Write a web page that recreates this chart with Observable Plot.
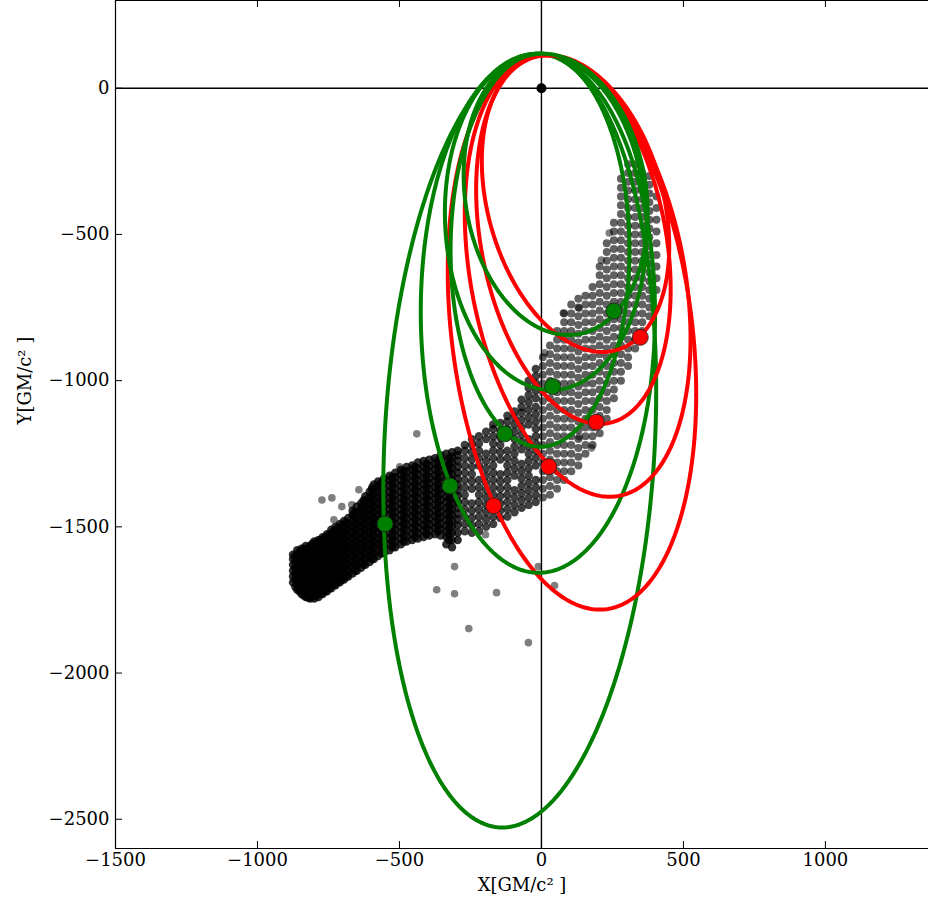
<!DOCTYPE html>
<html><head><meta charset="utf-8">
<script src="https://cdn.jsdelivr.net/npm/d3@7"></script>
<script src="https://cdn.jsdelivr.net/npm/@observablehq/plot@0.6"></script>
<style>
html,body{margin:0;padding:0;background:#fff;overflow:hidden}
</style></head><body><div id="chart"></div>
<script>
// ---- axes ----
const xDomain = [-1500, 1363];
const yDomain = [-2600, 300];
const xTicks = [-1500, -1000, -500, 0, 500, 1000];
const yTicks = [0, -500, -1000, -1500, -2000, -2500];
const xLabel = "X[GM/c² ]";
const yLabel = "Y[GM/c² ]";

// ---- black hole at origin ----
const originX = [0];
const originY = [0];

// ---- orbit ellipses: [xmin, xmax, ytop, ybottom, x at top] ----
const greenOrbits = [
  [-557, 404, 118, -2528, -15],
  [-425, 400, 118, -1657, -15],
  [-320, 310, 118, -1226, -5],
  [-340, 370, 118, -1032, -5],
  [-274, 374, 118, -844, 5]
];
const redOrbits = [
  [-330, 545, 113, -1783, 10],
  [-270, 525, 113, -1397, 15],
  [-230, 455, 113, -1148, 20],
  [-210, 450, 113, -902, 25]
];

// ---- current positions on the orbits ----
const greenMarkerX = [-551, -322, -129, 39, 255];
const greenMarkerY = [-1490, -1360, -1182, -1020, -762];
const redMarkerX = [-168, 26, 193, 348];
const redMarkerY = [-1428, -1294, -1142, -852];

// ---- dense part of the cloud (lower band), column by column: [x, [y values]] ----
const denseColumns = [
  [-875, [-1690,-1670,-1650,-1630,-1610,-1595]],
  [-867, [-1705,-1680,-1660,-1640,-1620,-1600]],
  [-860, [-1715,-1695,-1675,-1655,-1635,-1615,-1595,-1580]],
  [-852, [-1720,-1700,-1685,-1665,-1645,-1625,-1605,-1585]],
  [-845, [-1730,-1710,-1690,-1670,-1650,-1630,-1610,-1590,-1575]],
  [-837, [-1735,-1715,-1695,-1675,-1655,-1635,-1615,-1595,-1575]],
  [-830, [-1740,-1720,-1700,-1680,-1660,-1640,-1620,-1600,-1580,-1565]],
  [-822, [-1742,-1715,-1695,-1675,-1655,-1635,-1615,-1595,-1575]],
  [-815, [-1745,-1725,-1705,-1685,-1665,-1645,-1625,-1605,-1585,-1565]],
  [-807, [-1740,-1715,-1695,-1675,-1655,-1635,-1615,-1595,-1575,-1558]],
  [-800, [-1745,-1725,-1705,-1685,-1665,-1645,-1625,-1605,-1585,-1565,-1550]],
  [-792, [-1735,-1715,-1695,-1675,-1655,-1635,-1615,-1595,-1575,-1555]],
  [-785, [-1740,-1720,-1700,-1680,-1660,-1640,-1620,-1600,-1580,-1560,-1545]],
  [-777, [-1730,-1705,-1685,-1665,-1645,-1625,-1605,-1585,-1565,-1545]],
  [-770, [-1730,-1710,-1690,-1670,-1650,-1630,-1610,-1590,-1570,-1550,-1535]],
  [-762, [-1720,-1695,-1675,-1655,-1635,-1615,-1595,-1575,-1555,-1535]],
  [-755, [-1720,-1700,-1680,-1660,-1640,-1620,-1600,-1580,-1560,-1540,-1525]],
  [-747, [-1710,-1685,-1665,-1645,-1625,-1605,-1585,-1565,-1545,-1525]],
  [-740, [-1710,-1690,-1670,-1650,-1630,-1610,-1590,-1570,-1550,-1530,-1510]],
  [-732, [-1700,-1675,-1655,-1635,-1615,-1595,-1575,-1555,-1535,-1515]],
  [-725, [-1700,-1680,-1660,-1640,-1620,-1600,-1580,-1560,-1540,-1520,-1500]],
  [-717, [-1690,-1665,-1645,-1625,-1605,-1585,-1565,-1545,-1525,-1505]],
  [-710, [-1690,-1670,-1650,-1630,-1610,-1590,-1570,-1550,-1530,-1510,-1490]],
  [-702, [-1680,-1655,-1635,-1615,-1595,-1575,-1555,-1535,-1515,-1495]],
  [-695, [-1680,-1660,-1640,-1620,-1600,-1580,-1560,-1540,-1520,-1500,-1480]],
  [-687, [-1670,-1645,-1625,-1605,-1585,-1565,-1545,-1525,-1505,-1485]],
  [-680, [-1670,-1650,-1630,-1610,-1590,-1570,-1550,-1530,-1510,-1490,-1470]],
  [-665, [-1660,-1640,-1620,-1600,-1580,-1560,-1540,-1520,-1500,-1480,-1460,-1445]],
  [-657, [-1650,-1630,-1610,-1590,-1570,-1550,-1530,-1510,-1490,-1470,-1450]],
  [-650, [-1650,-1630,-1610,-1590,-1570,-1550,-1530,-1510,-1490,-1470,-1450,-1430]],
  [-635, [-1640,-1620,-1600,-1580,-1560,-1540,-1520,-1500,-1480,-1460,-1440,-1420]],
  [-627, [-1630,-1610,-1590,-1570,-1550,-1530,-1510,-1490,-1470,-1450,-1430,-1410]],
  [-620, [-1630,-1610,-1590,-1570,-1550,-1530,-1510,-1490,-1470,-1450,-1430,-1410,-1395]],
  [-605, [-1620,-1600,-1580,-1560,-1540,-1520,-1500,-1480,-1460,-1440,-1420,-1400,-1380]],
  [-597, [-1610,-1590,-1570,-1550,-1530,-1510,-1490,-1470,-1450,-1430,-1410,-1390,-1370]],
  [-590, [-1610,-1590,-1570,-1550,-1530,-1510,-1490,-1470,-1450,-1430,-1410,-1390,-1370,-1355]],
  [-575, [-1600,-1580,-1560,-1540,-1520,-1500,-1480,-1460,-1440,-1420,-1400,-1380,-1360,-1345]],
  [-565, [-1590,-1570,-1550,-1530,-1510,-1490,-1470,-1450,-1430,-1410,-1390,-1370,-1350]],
  [-555, [-1590,-1570,-1550,-1530,-1510,-1490,-1470,-1450,-1430,-1410,-1390,-1370,-1350,-1335]],
  [-535, [-1580,-1560,-1540,-1520,-1500,-1480,-1460,-1440,-1420,-1400,-1380,-1360,-1340,-1325]],
  [-525, [-1570,-1550,-1530,-1510,-1490,-1470,-1450,-1430,-1410,-1390,-1370,-1350,-1330]],
  [-515, [-1570,-1550,-1530,-1510,-1490,-1470,-1450,-1430,-1410,-1390,-1370,-1350,-1330,-1315]],
  [-495, [-1560,-1540,-1520,-1500,-1480,-1460,-1440,-1420,-1400,-1380,-1360,-1340,-1320,-1305]],
  [-485, [-1550,-1530,-1510,-1490,-1470,-1450,-1430,-1410,-1390,-1370,-1350,-1330,-1310]],
  [-475, [-1550,-1530,-1510,-1490,-1470,-1450,-1430,-1410,-1390,-1370,-1350,-1330,-1310,-1295]],
  [-455, [-1545,-1525,-1505,-1485,-1465,-1445,-1425,-1405,-1385,-1365,-1345,-1325,-1305,-1290]],
  [-445, [-1535,-1515,-1495,-1475,-1455,-1435,-1415,-1395,-1375,-1355,-1335,-1315,-1295]],
  [-435, [-1540,-1520,-1500,-1480,-1460,-1440,-1420,-1400,-1380,-1360,-1340,-1320,-1300,-1280]],
  [-415, [-1535,-1515,-1495,-1475,-1455,-1435,-1415,-1395,-1375,-1355,-1335,-1315,-1295,-1275]],
  [-405, [-1525,-1505,-1485,-1465,-1445,-1425,-1405,-1385,-1365,-1345,-1325,-1305,-1285]],
  [-395, [-1530,-1510,-1490,-1470,-1450,-1430,-1410,-1390,-1370,-1350,-1330,-1310,-1290,-1270]],
  [-375, [-1525,-1505,-1485,-1465,-1445,-1425,-1405,-1385,-1365,-1345,-1325,-1305,-1285,-1265]],
  [-365, [-1515,-1495,-1475,-1455,-1435,-1415,-1395,-1375,-1355,-1335,-1315,-1295,-1275]],
  [-355, [-1530,-1510,-1490,-1470,-1450,-1430,-1410,-1390,-1370,-1350,-1330,-1310,-1290,-1270,-1255]],
  [-335, [-1560,-1535,-1515,-1495,-1475,-1455,-1435,-1415,-1395,-1375,-1355,-1335,-1315,-1295,-1275,-1250]],
  [-325, [-1545,-1525,-1505,-1485,-1465,-1445,-1425,-1405,-1385,-1365,-1345,-1325,-1305,-1285,-1265]],
  [-315, [-1570,-1545,-1520,-1500,-1480,-1460,-1440,-1420,-1400,-1380,-1360,-1340,-1320,-1300,-1280,-1260,-1245]],
  [-295, [-1545,-1520,-1495,-1475,-1455,-1435,-1415,-1395,-1375,-1355,-1335,-1315,-1295,-1275,-1255,-1240]]
];
// ---- middle part of the band (dark, with small gaps) ----
const midColumns = [
  [-270, [-1515,-1490,-1465,-1440,-1415,-1390,-1365,-1340,-1315,-1290,-1265,-1240,-1220]],
  [-245, [-1520,-1495,-1470,-1445,-1420,-1370,-1345,-1320,-1295,-1270,-1245,-1220,-1200]],
  [-220, [-1515,-1490,-1465,-1440,-1415,-1390,-1365,-1340,-1290,-1265,-1240,-1215,-1190]],
  [-195, [-1500,-1475,-1450,-1425,-1400,-1375,-1350,-1325,-1300,-1275,-1250,-1200,-1175]],
  [-170, [-1490,-1465,-1415,-1390,-1365,-1340,-1315,-1290,-1265,-1240,-1215,-1190,-1165,-1150]],
  [-145, [-1470,-1445,-1420,-1395,-1370,-1345,-1320,-1270,-1245,-1220,-1195,-1170,-1145]],
  [-120, [-1465,-1440,-1415,-1390,-1365,-1340,-1315,-1290,-1265,-1240,-1190,-1165,-1140,-1120]],
  [-95,  [-1450,-1425,-1400,-1375,-1325,-1300,-1275,-1250,-1225,-1200,-1175,-1150,-1125,-1105]],
  [-70,  [-1435,-1410,-1385,-1360,-1335,-1310,-1285,-1235,-1210,-1185,-1160,-1135,-1110,-1090,-1065]],
  [-45,  [-1425,-1400,-1375,-1350,-1325,-1300,-1275,-1250,-1225,-1200,-1150,-1125,-1100,-1075,-1050,-1025,-1000]],
  [-20,  [-1415,-1390,-1365,-1340,-1290,-1265,-1240,-1215,-1190,-1165,-1140,-1115,-1090,-1060,-1035,-1010,-985,-960]]
];
// ---- looser upper part of the band ----
const upperColumns = [
  [5,    [-1400,-1370,-1340,-1310,-1280,-1250,-1220,-1190,-1160,-1130,-1100,-1070,-1040,-1010,-980,-950,-920]],
  [30,   [-1390,-1360,-1330,-1300,-1270,-1240,-1210,-1180,-1150,-1120,-1090,-1060,-1030,-1000,-970,-940,-910,-880]],
  [55,   [-1370,-1340,-1310,-1280,-1250,-1220,-1190,-1160,-1130,-1100,-1070,-1040,-1010,-980,-950,-920,-890,-860,-830]],
  [80,   [-1340,-1310,-1280,-1250,-1220,-1190,-1160,-1130,-1100,-1070,-1040,-1010,-980,-950,-920,-890,-860,-830,-800,-770]],
  [105,  [-1310,-1280,-1250,-1220,-1190,-1160,-1130,-1100,-1070,-1040,-1010,-980,-950,-920,-890,-860,-830,-800,-770,-740]],
  [130,  [-1290,-1260,-1230,-1200,-1170,-1140,-1110,-1080,-1050,-1020,-990,-960,-930,-900,-870,-840,-810,-780,-750,-720]],
  [155,  [-1250,-1220,-1190,-1160,-1130,-1100,-1070,-1040,-1010,-980,-950,-920,-890,-860,-830,-800,-770,-740,-710]],
  [180,  [-1220,-1190,-1160,-1130,-1100,-1070,-1040,-1010,-980,-950,-920,-890,-860,-830,-800,-770,-740,-710,-680]],
  [205,  [-1180,-1150,-1120,-1090,-1060,-1030,-1000,-970,-940,-910,-880,-850,-820,-790,-760,-730,-700,-670,-640,-610]],
  [230,  [-1130,-1100,-1070,-1040,-1010,-980,-950,-920,-890,-860,-830,-800,-770,-740,-710,-680,-650,-620,-590,-560,-530]],
  [255,  [-1060,-1030,-1000,-970,-940,-910,-880,-850,-820,-790,-760,-730,-700,-670,-640,-610,-580,-550,-520,-490,-460]],
  [280,  [-1000,-970,-940,-910,-880,-850,-820,-790,-760,-730,-700,-670,-640,-610,-580,-550,-520,-490,-460,-430,-400,-370,-340,-310]],
  [305,  [-950,-920,-890,-860,-830,-800,-770,-740,-710,-680,-650,-620,-590,-560,-530,-500,-470,-440,-410,-380,-350,-320,-290,-260]],
  [330,  [-890,-860,-830,-800,-770,-740,-710,-680,-650,-620,-590,-560,-530,-500,-470,-440,-410,-380,-350,-320,-290,-260]],
  [355,  [-830,-800,-770,-740,-710,-680,-650,-620,-590,-560,-530,-500,-470,-440,-410,-380,-350,-320,-290]],
  [380,  [-780,-750,-720,-690,-660,-630,-600,-570,-540,-510,-480,-450,-420,-390,-360,-330,-300]],
  [405,  [-690,-650,-610,-570,-530,-490,-450,-410,-370]]
];
// isolated points around the cloud
const strayX = [-439,-499,-773,-738,-703,-668,-643,-597,-731,-306,-369,-306,-158,-256,-46,-11,46,-197,176,133,77,133,11,239,211];
const strayY = [-1182,-1295,-1408,-1401,-1431,-1425,-1373,-1363,-1476,-1636,-1715,-1729,-1725,-1848,-1896,-1636,-1701,-1527,-1230,-1192,-769,-752,-905,-495,-588];

// ---- build tables ----
const toPoints = cols => cols.flatMap(([x, ys]) => ys.map(y => ({x, y})));
const densePts = toPoints(denseColumns);
const midPts = toPoints(midColumns);
const upperPts = toPoints(upperColumns);
const strays = strayX.map((x, i) => ({x, y: strayY[i]}));

function ellipse([xmin, xmax, ytop, ybot, xtop]) {
  const cx = (xmin + xmax) / 2, W = (xmax - xmin) / 2;
  const cy = (ytop + ybot) / 2, H = (ytop - ybot) / 2;
  const k = xtop - cx, Q = Math.sqrt(W * W - k * k);
  return d3.range(0, 361).map(i => {
    const t = i * Math.PI / 180;
    return {x: cx + k * Math.sin(t) + Q * Math.cos(t), y: cy + H * Math.sin(t)};
  });
}
const orbitMarks = [];
for (let i = 0; i < greenOrbits.length; i++) {
  orbitMarks.push(Plot.line(ellipse(greenOrbits[i]), {x: "x", y: "y", stroke: "#008000", strokeWidth: 4}));
  if (i < redOrbits.length)
    orbitMarks.push(Plot.line(ellipse(redOrbits[i]), {x: "x", y: "y", stroke: "#ff0000", strokeWidth: 4}));
}
const greenMarkers = greenMarkerX.map((x, i) => ({x, y: greenMarkerY[i]}));
const redMarkers = redMarkerX.map((x, i) => ({x, y: redMarkerY[i]}));

const plotH = 911 - 63;   // frame height in px
const plotW = 928 - 115;  // frame width in px

const chart = Plot.plot({
  width: 928,
  height: 911,
  marginLeft: 115,
  marginRight: 0,
  marginTop: 0,
  marginBottom: 63,
  x: {domain: xDomain},
  y: {domain: yDomain},
  style: {fontFamily: "'DejaVu Serif', serif", fontSize: "18px", background: "white", color: "black"},
  marks: [
    Plot.dot(densePts, {x: "x", y: "y", r: 4.2, fill: "black", fillOpacity: 0.82}),
    Plot.dot(midPts, {x: "x", y: "y", r: 4.2, fill: "black", fillOpacity: 0.75}),
    Plot.dot(upperPts, {x: "x", y: "y", r: 4, fill: "black", fillOpacity: 0.62}),
    Plot.dot(strays, {x: "x", y: "y", r: 3.8, fill: "black", fillOpacity: 0.5}),
    Plot.ruleX(originX, {stroke: "black", strokeWidth: 1.4}),
    Plot.ruleY(originY, {stroke: "black", strokeWidth: 1.4}),
    ...orbitMarks,
    Plot.dot(greenMarkers, {x: "x", y: "y", r: 8, fill: "#008000", stroke: "#1a1a1a", strokeWidth: 0.8}),
    Plot.dot(redMarkers, {x: "x", y: "y", r: 8, fill: "#ff0000", stroke: "#1a1a1a", strokeWidth: 0.8}),
    Plot.dot(originX.map((x, i) => ({x, y: originY[i]})), {x: "x", y: "y", r: 5, fill: "black"}),
    // frame (left, bottom, top)
    Plot.ruleX([xDomain[0]], {stroke: "black", strokeWidth: 1.2}),
    Plot.ruleY(yDomain, {stroke: "black", strokeWidth: 1.2}),
    // inward ticks
    Plot.ruleX(xTicks, {insetTop: plotH - 7, stroke: "black"}),
    Plot.ruleX(xTicks, {insetBottom: plotH - 7, stroke: "black"}),
    Plot.ruleY(yTicks, {insetRight: plotW - 7, stroke: "black"}),
    // tick labels
    Plot.axisX(xTicks, {tickSize: 0, tickPadding: 5, tickFormat: d3.format("d"), label: null}),
    Plot.axisY(yTicks, {tickSize: 0, tickPadding: 6, tickFormat: d3.format("d"), label: null}),
    // axis titles
    Plot.text([xLabel], {frameAnchor: "bottom", dy: 42, text: d => d, fontSize: 18}),
    Plot.text([yLabel], {frameAnchor: "left", dx: -90, rotate: -90, text: d => d, fontSize: 18})
  ]
});
document.getElementById("chart").append(chart);
</script>
</body></html>
